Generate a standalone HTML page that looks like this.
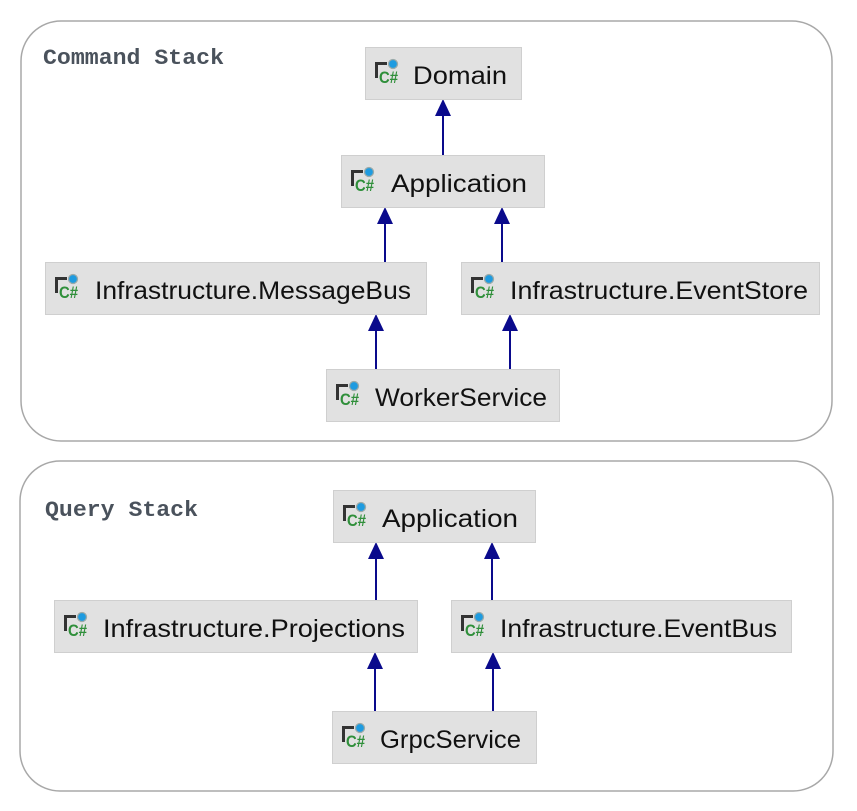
<!DOCTYPE html>
<html><head><meta charset="utf-8"><style>
html,body{margin:0;padding:0;background:#fff;width:857px;height:811px;overflow:hidden}
svg{display:block}
.t{font-family:"Liberation Sans",sans-serif;font-size:25px;fill:#111}
.h{font-family:"Liberation Mono",monospace;font-size:22px;font-weight:bold;fill:#4a525c}
.n{fill:#e1e1e1;stroke:#cfcfcf;stroke-width:1}
.l{stroke:#0a0a8c;stroke-width:2}
.a{fill:#0a0a8c}
.cs{font-family:"Liberation Sans",sans-serif;font-weight:bold;font-size:17px;fill:#2f8f3a}
</style></head><body>
<svg width="857" height="811" viewBox="0 0 857 811" xmlns="http://www.w3.org/2000/svg">
<defs>
<g id="ic">
<rect x="0" y="0" width="12" height="3" fill="#333"/>
<rect x="0" y="0" width="3" height="16" fill="#333"/>
<circle cx="18" cy="2" r="4.5" fill="#1e9be0" stroke="#9aa" stroke-width="1.3"/>
<text x="4" y="21" class="cs" textLength="19" lengthAdjust="spacingAndGlyphs">C#</text>
</g>
</defs>
<rect x="21" y="21" width="811" height="420" rx="40" fill="#fff" stroke="#a8a8a8" stroke-width="1.5"/>
<rect x="20" y="461" width="813" height="330" rx="40" fill="#fff" stroke="#a8a8a8" stroke-width="1.5"/>
<text x="43" y="64" class="h" textLength="181" lengthAdjust="spacingAndGlyphs">Command Stack</text>
<text x="45" y="516" class="h" textLength="153" lengthAdjust="spacingAndGlyphs">Query Stack</text>

<g>
<line class="l" x1="443" y1="155" x2="443" y2="112"/><polygon class="a" points="443,99 435,116 451,116"/>
<line class="l" x1="385" y1="262" x2="385" y2="220"/><polygon class="a" points="385,207 377,224 393,224"/>
<line class="l" x1="502" y1="262" x2="502" y2="220"/><polygon class="a" points="502,207 494,224 510,224"/>
<line class="l" x1="376" y1="369" x2="376" y2="327"/><polygon class="a" points="376,314 368,331 384,331"/>
<line class="l" x1="510" y1="369" x2="510" y2="327"/><polygon class="a" points="510,314 502,331 518,331"/>
<line class="l" x1="376" y1="600" x2="376" y2="555"/><polygon class="a" points="376,542 368,559 384,559"/>
<line class="l" x1="492" y1="600" x2="492" y2="555"/><polygon class="a" points="492,542 484,559 500,559"/>
<line class="l" x1="375" y1="711" x2="375" y2="665"/><polygon class="a" points="375,652 367,669 383,669"/>
<line class="l" x1="493" y1="711" x2="493" y2="665"/><polygon class="a" points="493,652 485,669 501,669"/>
</g>

<rect class="n" x="365.5" y="47.5" width="156" height="52"/><use href="#ic" x="375" y="62"/><text class="t" x="413" y="84" textLength="94" lengthAdjust="spacingAndGlyphs">Domain</text>
<rect class="n" x="341.5" y="155.5" width="203" height="52"/><use href="#ic" x="351" y="170"/><text class="t" x="391" y="192" textLength="136" lengthAdjust="spacingAndGlyphs">Application</text>
<rect class="n" x="45.5" y="262.5" width="381" height="52"/><use href="#ic" x="55" y="277"/><text class="t" x="95" y="299" textLength="316" lengthAdjust="spacingAndGlyphs">Infrastructure.MessageBus</text>
<rect class="n" x="461.5" y="262.5" width="358" height="52"/><use href="#ic" x="471" y="277"/><text class="t" x="510" y="299" textLength="298" lengthAdjust="spacingAndGlyphs">Infrastructure.EventStore</text>
<rect class="n" x="326.5" y="369.5" width="233" height="52"/><use href="#ic" x="336" y="384"/><text class="t" x="375" y="406" textLength="172" lengthAdjust="spacingAndGlyphs">WorkerService</text>
<rect class="n" x="333.5" y="490.5" width="202" height="52"/><use href="#ic" x="343" y="505"/><text class="t" x="382" y="527" textLength="136" lengthAdjust="spacingAndGlyphs">Application</text>
<rect class="n" x="54.5" y="600.5" width="363" height="52"/><use href="#ic" x="64" y="615"/><text class="t" x="103" y="637" textLength="302" lengthAdjust="spacingAndGlyphs">Infrastructure.Projections</text>
<rect class="n" x="451.5" y="600.5" width="340" height="52"/><use href="#ic" x="461" y="615"/><text class="t" x="500" y="637" textLength="277" lengthAdjust="spacingAndGlyphs">Infrastructure.EventBus</text>
<rect class="n" x="332.5" y="711.5" width="204" height="52"/><use href="#ic" x="342" y="726"/><text class="t" x="380" y="748" textLength="141" lengthAdjust="spacingAndGlyphs">GrpcService</text>
</svg>
</body></html>
